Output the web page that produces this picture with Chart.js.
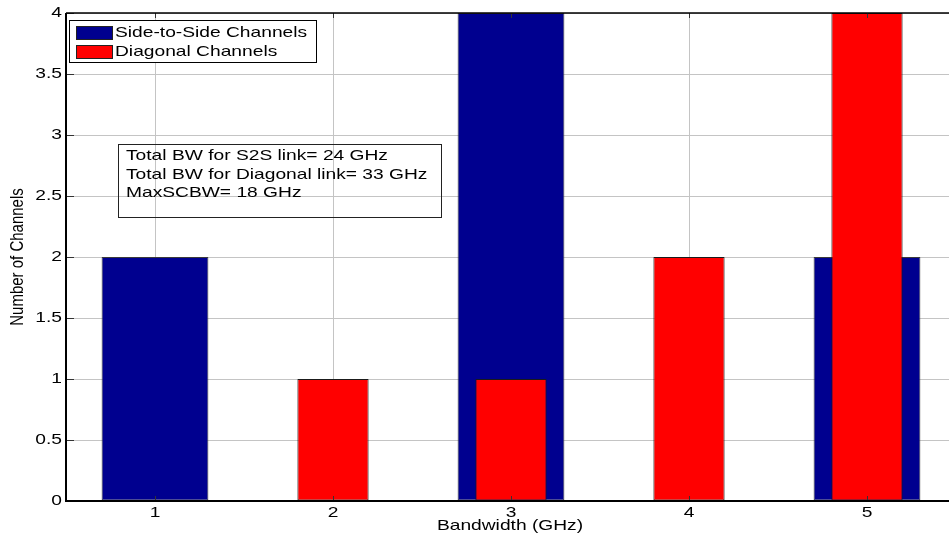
<!DOCTYPE html>
<html>
<head>
<meta charset="utf-8">
<script src="https://cdn.jsdelivr.net/npm/chart.js@4/dist/chart.umd.min.js"></script>
<style>
  html, body { margin: 0; padding: 0; background: #fff; overflow: hidden; }
  canvas { display: block; }
</style>
</head>
<body>
<canvas id="bwChart" width="960" height="541"></canvas>
<script>

/* DATA */

const bandwidths = ["1", "2", "3", "4", "5"];
const sideToSide = [2, 0, 4, 0, 2];
const diagonal = [0, 1, 1, 2, 4];
const yTicks = [0, 0.5, 1, 1.5, 2, 2.5, 3, 3.5, 4];
const infoLines = [
  "Total BW for S2S link= 24 GHz",
  "Total BW for Diagonal link= 33 GHz",
  "MaxSCBW= 18 GHz"
];

const FONT = "'Liberation Sans', Arial, sans-serif";
const BLUE = "#00008f";
const RED = "#ff0000";
const STRETCH = 1.28;   // text in the original is wider than it is tall


// text drawn a bit wider, like the original screenshot
function wideText(ctx, text, x, y, align) {
  const w = ctx.measureText(text).width * STRETCH;
  let left = x;
  if (align === "center") left = x - w / 2;
  if (align === "right") left = x - w;
  ctx.save();
  ctx.translate(left, y);
  ctx.scale(STRETCH, 1);
  ctx.textAlign = "left";
  ctx.fillText(text, 0, 0);
  ctx.restore();
}


/* EXTRAS: axis box, inner ticks, labels, legend, text box, axis titles */

const extras = {
  id: "extras",
  afterDraw(chart) {
    const ctx = chart.ctx;
    const a = chart.chartArea;
    const xs = chart.scales.x;
    const ys = chart.scales.y;

    ctx.save();

    // inner tick marks
    ctx.strokeStyle = "#333";
    ctx.lineWidth = 1;
    ctx.beginPath();
    bandwidths.forEach((b, i) => {
      const px = Math.round(xs.getPixelForValue(i)) + 0.5;
      ctx.moveTo(px, a.bottom); ctx.lineTo(px, a.bottom - 5);
      ctx.moveTo(px, a.top); ctx.lineTo(px, a.top + 5);
    });
    yTicks.forEach(v => {
      const py = Math.round(ys.getPixelForValue(v)) + 0.5;
      ctx.moveTo(a.left, py); ctx.lineTo(a.left + 8, py);
    });
    ctx.stroke();

    // axis lines
    ctx.strokeStyle = "#000";
    ctx.lineWidth = 2;
    ctx.beginPath();
    ctx.moveTo(a.left, a.top); ctx.lineTo(a.left, a.bottom);
    ctx.lineTo(a.right + 10, a.bottom);
    ctx.stroke();
    ctx.lineWidth = 1.5;
    ctx.beginPath();
    ctx.moveTo(a.left, a.top); ctx.lineTo(a.right + 10, a.top);
    ctx.stroke();

    // tick labels
    ctx.fillStyle = "#000";
    ctx.font = "15px " + FONT;
    ctx.textBaseline = "middle";
    yTicks.forEach(v => {
      wideText(ctx, String(v), a.left - 4, ys.getPixelForValue(v), "right");
    });
    bandwidths.forEach((b, i) => {
      wideText(ctx, b, xs.getPixelForValue(i), 513, "center");
    });

    // legend
    const lx = 69, ly = 20, lw = 247, lh = 42;
    ctx.fillStyle = "#fff";
    ctx.fillRect(lx, ly, lw, lh);
    ctx.strokeStyle = "#000";
    ctx.lineWidth = 1;
    ctx.strokeRect(lx + 0.5, ly + 0.5, lw, lh);
    const items = [
      { label: "Side-to-Side Channels", color: BLUE },
      { label: "Diagonal Channels", color: RED }
    ];
    items.forEach((it, i) => {
      const cy = 32 + i * 19;
      ctx.fillStyle = it.color;
      ctx.fillRect(76, cy - 6, 36, 13);
      ctx.strokeStyle = "#222";
      ctx.strokeRect(76.5, cy - 5.5, 36, 13);
      ctx.fillStyle = "#000";
      wideText(ctx, it.label, 115, cy + 1, "left");
    });

    // info box
    ctx.strokeStyle = "#222";
    ctx.strokeRect(118.5, 144.5, 323, 73);
    ctx.fillStyle = "#000";
    infoLines.forEach((t, i) => {
      wideText(ctx, t, 126, 156 + i * 18.5, "left");
    });

    // axis titles
    wideText(ctx, "Bandwidth (GHz)", (a.left + a.right) / 2 - 1, 526, "center");
    ctx.translate(18, 257);
    ctx.rotate(-Math.PI / 2);
    ctx.scale(1, STRETCH);
    ctx.textAlign = "center";
    ctx.fillText("Number of Channels", 0, 0);

    ctx.restore();
  }
};


/* CHART */

new Chart(document.getElementById("bwChart"), {

  type: "bar",

  data: {
    labels: bandwidths,
    datasets: [
      {
        label: "Side-to-Side Channels",
        data: sideToSide,
        backgroundColor: BLUE,
        borderColor: "#3a3a3a",
        borderWidth: 1,
        borderSkipped: false,
        barPercentage: 0.6,
        categoryPercentage: 1,
        order: 2
      },
      {
        label: "Diagonal Channels",
        data: diagonal,
        backgroundColor: RED,
        borderColor: "#1a1a1a",
        borderWidth: 1,
        borderSkipped: false,
        barPercentage: 0.4,
        categoryPercentage: 1,
        order: 1
      }
    ]
  },

  options: {
    responsive: false,
    animation: false,
    events: [],
    layout: {
      padding: { top: 13, right: 4, left: 0, bottom: 0 }
    },
    datasets: {
      bar: { grouped: false }
    },
    plugins: {
      legend: { display: false },
      tooltip: { enabled: false }
    },
    scales: {
      x: {
        offset: true,
        grid: {
          offset: false,
          color: "#c4c4c4",
          lineWidth: 1,
          drawTicks: false
        },
        border: { display: false },
        ticks: { display: false },
        afterFit(scale) { scale.height = 40; }
      },
      y: {
        min: 0,
        max: 4,
        afterBuildTicks(scale) {
          scale.ticks = yTicks.map(v => ({ value: v }));
        },
        grid: {
          color: "#c4c4c4",
          lineWidth: 1,
          drawTicks: false
        },
        border: { display: false },
        ticks: { display: false },
        afterFit(scale) { scale.width = 66; }
      }
    }
  },

  plugins: [extras]

});

</script>
</body>
</html>
